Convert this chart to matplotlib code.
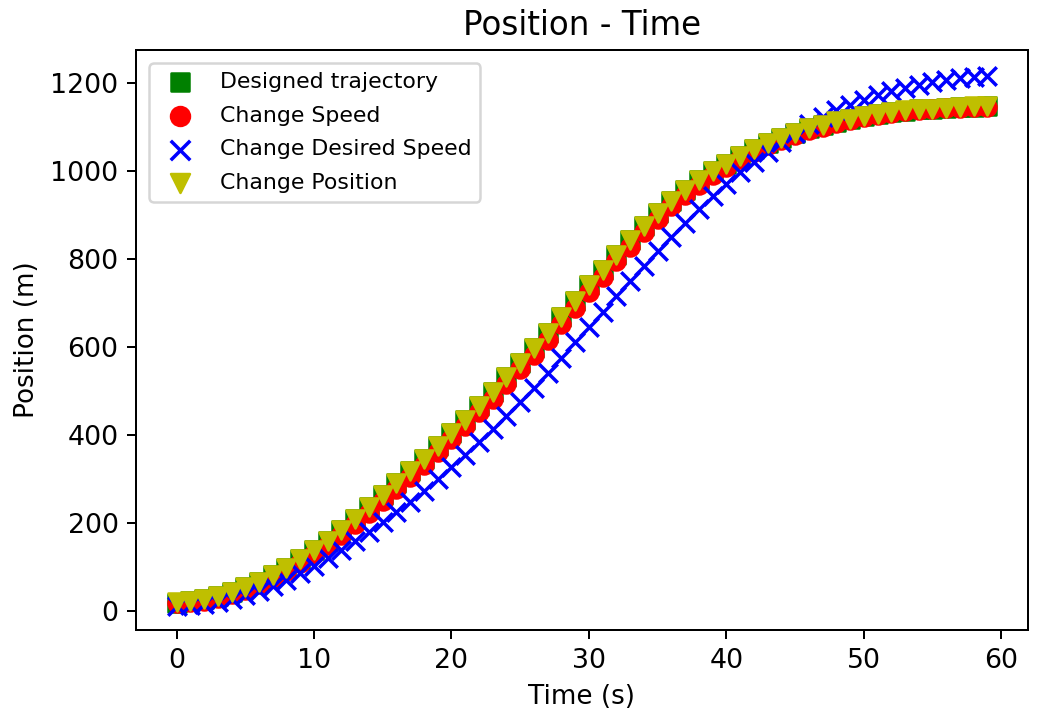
import numpy as np
import matplotlib
matplotlib.use("Agg")
import matplotlib.pyplot as plt

# time steps (s)
t = list(range(60))

# designed trajectory (m)
designed = [18, 21, 26, 33, 42, 53, 66, 81, 98, 117, 137, 159, 183, 208, 235,
            262, 289, 317, 345, 374, 403, 434, 465, 497, 530, 563, 597, 632, 667, 703,
            739, 774, 809, 842, 874, 904, 931, 956, 978, 998, 1016, 1033, 1049, 1063, 1075,
            1086, 1096, 1104, 1111, 1118, 1124, 1129, 1133, 1136, 1139, 1141, 1143, 1144, 1145, 1146]

change_speed = [17, 19, 23, 29, 37, 48, 60, 74, 90, 108, 128, 149, 172, 196, 223,
                250, 276, 304, 332, 361, 390, 420, 451, 482, 515, 548, 581, 616, 651, 687,
                723, 758, 794, 827, 860, 891, 919, 945, 968, 989, 1008, 1026, 1042, 1057, 1070,
                1081, 1092, 1100, 1108, 1115, 1122, 1127, 1131, 1135, 1138, 1140, 1142, 1143, 1144, 1145]

change_desired_speed = [10, 12, 15, 20, 27, 35, 45, 57, 70, 85, 101, 119, 138, 158, 179,
                        201, 224, 248, 273, 299, 326, 354, 383, 413, 443, 474, 506, 540, 575, 611,
                        645, 679, 714, 749, 783, 817, 850, 882, 913, 943, 970, 996, 1020, 1043, 1065,
                        1086, 1105, 1122, 1137, 1150, 1161, 1171, 1180, 1188, 1195, 1201, 1206, 1210, 1213, 1215]

change_position = [19, 22, 26, 33, 42, 53, 66, 81, 98, 117, 137, 159, 183, 208, 235,
                   262, 289, 317, 345, 374, 403, 434, 465, 497, 530, 563, 597, 632, 667, 703,
                   739, 774, 809, 842, 874, 904, 931, 956, 978, 998, 1016, 1033, 1049, 1063, 1075,
                   1086, 1096, 1104, 1112, 1118, 1124, 1129, 1133, 1137, 1139, 1141, 1143, 1145, 1146, 1147]

dpi = 180
fig = plt.figure(figsize=(1037 / dpi, 717 / dpi), dpi=dpi)
ax = fig.add_axes([136 / 1037, 87 / 717, 892 / 1037, 580 / 717])

ax.scatter(t, designed, marker="s", c="g", s=52, label="Designed trajectory")
ax.scatter(t, change_speed, marker="o", c="r", s=52, label="Change Speed")
ax.scatter(t, change_desired_speed, marker="x", c="b", s=55, linewidths=1.4,
           label="Change Desired Speed")
ax.scatter(t, change_position, marker="v", c="y", s=52, label="Change Position")

ax.set_xlim(-2.95, 61.95)
ax.set_ylim(-44, 1274)
ax.set_xticks([0, 10, 20, 30, 40, 50, 60])
ax.set_yticks([0, 200, 400, 600, 800, 1000, 1200])
ax.tick_params(labelsize=10.7)

ax.set_title("Position - Time", fontsize=13)
ax.set_xlabel("Time (s)", fontsize=10.5)
ax.set_ylabel("Position (m)", fontsize=10.5)
ax.legend(loc="upper left", scatterpoints=1, fontsize=8.8,
          borderaxespad=0.6, labelspacing=0.62, markerscale=1.05)

fig.savefig("out.png", dpi=dpi)
